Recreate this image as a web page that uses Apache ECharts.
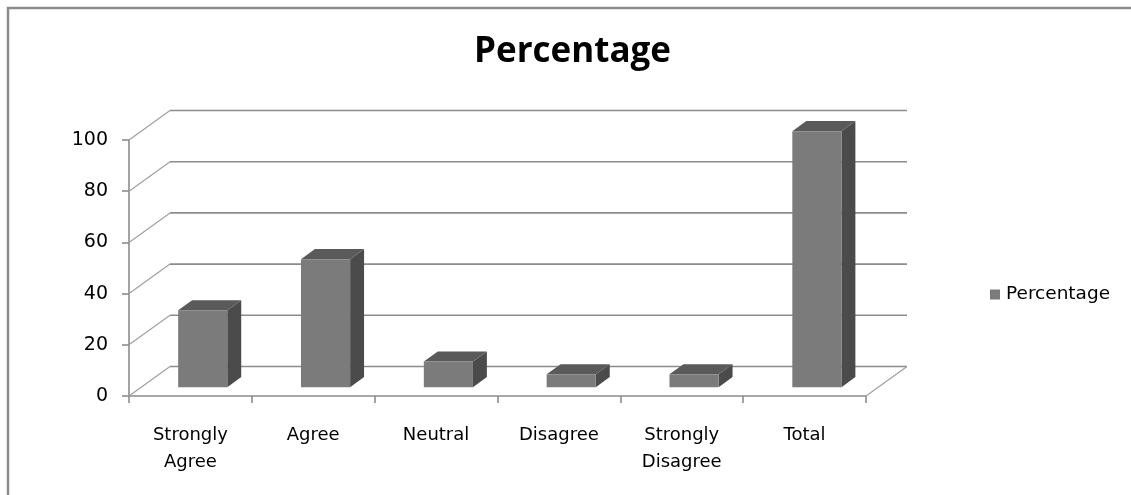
<!DOCTYPE html>
<html>
<head>
<meta charset="utf-8">
<title>Percentage</title>
<script src="https://cdn.jsdelivr.net/npm/echarts@6/dist/echarts.min.js"></script>
<style>
  html, body { margin: 0; padding: 0; background: #fff; }
  #chart { width: 1131px; height: 495px; }
</style>
</head>
<body>
<div id="chart"></div>
<script>
// Survey responses and their share in percent
const categories = ['Strongly\nAgree', 'Agree', 'Neutral', 'Disagree', 'Strongly\nDisagree', 'Total'];
const values = [30, 50, 10, 5, 5, 100];
const yTicks = [0, 20, 40, 60, 80, 100];
const seriesName = 'Percentage';

// Oblique projection of the depth axis (full depth of the floor)
const DEPTH = [41, -29.5];
// Bars occupy this slice of the depth and this half-width of a category
const BAR_FRONT = 0.3, BAR_BACK = 0.64, BAR_HALF = 0.2;

const GRID_COLOR = '#8c8c8c';
const TITLE_FONT = '"Open Sans", "Liberation Sans", sans-serif';
const FONT = '"DejaVu Sans", "Open Sans", sans-serif';

const chart = echarts.init(document.getElementById('chart'), null, { renderer: 'canvas' });

function shift(p, k) { return [p[0] + DEPTH[0] * k, p[1] + DEPTH[1] * k]; }

// Side wall diagonals and back wall gridlines, one per tick value
function renderWall(params, api) {
  const v = api.value(1);
  const p0 = api.coord([0, v]);
  const p1 = api.coord([categories.length, v]);
  const b0 = shift(p0, 1), b1 = shift(p1, 1);
  const style = { stroke: GRID_COLOR, lineWidth: 1.6 };
  const children = [
    { type: 'line', shape: { x1: p0[0], y1: p0[1], x2: b0[0], y2: b0[1] }, style: { stroke: '#a0a0a0', lineWidth: 1.2 } },
    { type: 'line', shape: { x1: b0[0], y1: b0[1], x2: b1[0], y2: b1[1] }, style }
  ];
  if (v === 0) {
    children.push({ type: 'line', shape: { x1: p1[0], y1: p1[1], x2: b1[0], y2: b1[1] }, style: { stroke: '#a0a0a0', lineWidth: 1.2 } });
  }
  return { type: 'group', children };
}

// A box per category: front, top and right side faces
function renderBar(params, api) {
  const i = api.value(0);
  const v = api.value(1);
  const bl = api.coord([i + 0.5 - BAR_HALF, 0]);
  const tr = api.coord([i + 0.5 + BAR_HALF, v]);
  const tl = [bl[0], tr[1]];
  const br = [tr[0], bl[1]];
  const fTL = shift(tl, BAR_FRONT), fTR = shift(tr, BAR_FRONT), fBR = shift(br, BAR_FRONT), fBL = shift(bl, BAR_FRONT);
  const bTL = shift(tl, BAR_BACK), bTR = shift(tr, BAR_BACK), bBR = shift(br, BAR_BACK);
  return {
    type: 'group',
    children: [
      { type: 'polygon', shape: { points: [fTR, bTR, bBR, fBR] }, style: { fill: '#4b4b4b' } },
      { type: 'polygon', shape: { points: [fTL, fTR, bTR, bTL] }, style: { fill: '#5a5a5a' } },
      { type: 'rect', shape: { x: fTL[0], y: fTL[1], width: fTR[0] - fTL[0], height: fBL[1] - fTL[1] }, style: { fill: '#7b7b7b' } }
    ]
  };
}

const option = {
  backgroundColor: '#ffffff',
  animation: false,
  title: {
    text: 'Percentage',
    left: 469,
    top: 30,
    textStyle: { fontFamily: TITLE_FONT, fontSize: 35, fontWeight: 'bold', color: '#000' }
  },
  legend: {
    data: [seriesName],
    left: 985,
    top: 280,
    icon: 'rect',
    itemWidth: 10,
    itemHeight: 10,
    itemGap: 8,
    textStyle: { fontFamily: FONT, fontSize: 18.5, color: '#000', padding: [0, 0, 0, 1] }
  },
  grid: { left: 129, right: 265, top: 140, bottom: 99, containLabel: false },
  xAxis: [
    {
      type: 'category',
      data: categories,
      boundaryGap: true,
      axisLine: { show: true, lineStyle: { color: GRID_COLOR, width: 1.6 } },
      axisTick: { show: true, length: 7, lineStyle: { color: GRID_COLOR, width: 1.6 } },
      axisLabel: { fontFamily: FONT, fontSize: 18, color: '#000', lineHeight: 27, margin: 26, interval: 0 },
      splitLine: { show: false }
    },
    { type: 'value', min: 0, max: categories.length, show: false }
  ],
  yAxis: {
    type: 'value',
    min: 0,
    max: 100,
    interval: 20,
    axisLine: { show: true, lineStyle: { color: GRID_COLOR, width: 1.6 } },
    axisTick: { show: true, length: 7, lineStyle: { color: GRID_COLOR, width: 1.6 } },
    axisLabel: { fontFamily: FONT, fontSize: 19, color: '#000', margin: 21 },
    splitLine: { show: false }
  },
  graphic: [
    { type: 'polyline', shape: { points: [[8, 520], [8, 8], [1160, 8]] },
      style: { fill: 'none', stroke: GRID_COLOR, lineWidth: 2.5 }, silent: true, z: 0 }
  ],
  series: [
    {
      type: 'custom',
      name: 'wall',
      xAxisIndex: 1,
      clip: false,
      silent: true,
      renderItem: renderWall,
      data: yTicks.map(t => [0, t]),
      z: 1
    },
    {
      type: 'custom',
      name: seriesName,
      xAxisIndex: 1,
      clip: false,
      itemStyle: { color: '#7b7b7b' },
      renderItem: renderBar,
      data: values.map((v, i) => [i, v]),
      z: 2
    }
  ]
};

chart.setOption(option);
</script>
</body>
</html>
